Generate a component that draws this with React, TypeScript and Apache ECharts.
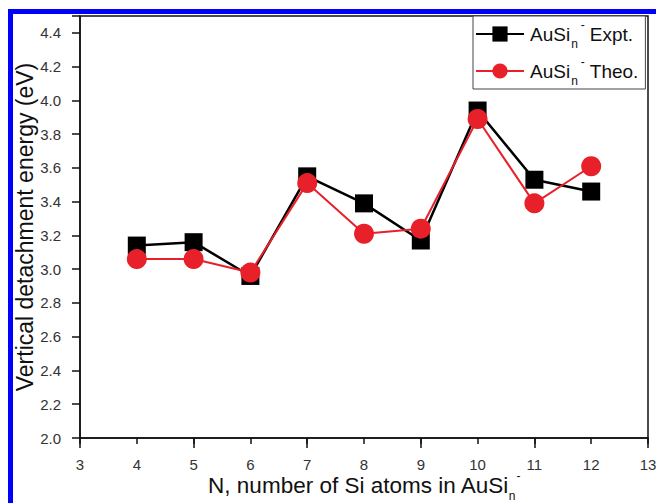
import React, { useEffect, useRef } from "react";
import * as echarts from "echarts";

const nValues = [4, 5, 6, 7, 8, 9, 10, 11, 12];
const exptVDE = [3.14, 3.16, 2.96, 3.55, 3.39, 3.17, 3.94, 3.53, 3.46];
const theoVDE = [3.06, 3.06, 2.98, 3.51, 3.21, 3.24, 3.89, 3.39, 3.61];
const seriesNames = ["Expt.", "Theo."];

export default function App() {
  const ref = useRef<HTMLDivElement>(null);
  useEffect(() => {
    if (!ref.current) return;
    const chart = echarts.init(ref.current, null, { renderer: "svg" });
    const font = "Liberation Sans, Arial, sans-serif";
    const legendRich = {
      a: { fontSize: 19, fontFamily: font, color: "#111", lineHeight: 28, verticalAlign: "middle" },
      sub: { fontSize: 12, fontFamily: font, color: "#111", lineHeight: 12, verticalAlign: "bottom", padding: [0, 3, -2, 1] },
      sup: { fontSize: 12, fontFamily: font, color: "#111", lineHeight: 12, verticalAlign: "top", padding: [-1, 5, 0, 0] },
    };
    chart.setOption({
      animation: false,
      backgroundColor: "#ffffff",
      grid: {
        left: 80,
        top: 16,
        right: 8,
        bottom: 65,
        show: true,
        borderColor: "#111",
        borderWidth: 1.5,
        outerBoundsMode: "none",
        containLabel: false,
      },
      legend: {
        left: 473,
        top: 16,
        orient: "vertical",
        itemWidth: 48,
        itemHeight: 19,
        itemGap: 6,
        padding: [3, 7, 2, 2],
        borderColor: "#444",
        borderWidth: 1,
        backgroundColor: "#fff",
        data: seriesNames,
        formatter: (name: string) => `{a|AuSi}{sub|n}{sup|-}{a|${name}}`,
        textStyle: { rich: legendRich, fontSize: 19, fontFamily: font, padding: [0, 0, 0, 1] },
      },
      xAxis: [
        {
          type: "value",
          min: 3,
          max: 13,
          interval: 1,
          name: "{a|N, number of Si atoms in AuSi}{sub|n}{sup|-}",
          nameLocation: "middle",
          nameGap: 34,
          nameMoveOverlap: false,
          nameTextStyle: {
            rich: {
              a: { fontSize: 22.5, fontFamily: font, color: "#111", lineHeight: 26, verticalAlign: "middle" },
              sub: { fontSize: 12, fontFamily: font, color: "#111", lineHeight: 12, verticalAlign: "bottom", padding: [0, 1, -4, 0] },
              sup: { fontSize: 12, fontFamily: font, color: "#111", lineHeight: 12, verticalAlign: "top", padding: [-2, 0, 0, 0] },
            },
          },
          axisLine: { show: true, lineStyle: { color: "#111", width: 1.5 } },
          axisTick: { show: true, length: 6, lineStyle: { color: "#111", width: 1.5 } },
          axisLabel: { fontSize: 15, fontFamily: font, color: "#333", margin: 19 },
          splitLine: { show: false },
        },
        {
          type: "value",
          min: 3,
          max: 13,
          interval: 2,
          position: "bottom",
          axisLine: { show: false },
          axisTick: { show: true, length: 10, lineStyle: { color: "#111", width: 1.5 } },
          axisLabel: { show: false },
          splitLine: { show: false },
        },
      ],
      yAxis: {
        type: "value",
        min: 2.0,
        max: 4.5,
        interval: 0.2,
        name: "Vertical detachment energy (eV)",
        nameLocation: "middle",
        nameGap: 44,
        nameMoveOverlap: false,
        nameTextStyle: { fontSize: 23, fontFamily: font, color: "#111" },
        axisLine: { show: true, lineStyle: { color: "#111", width: 1.5 } },
        axisTick: { show: true, length: 8, lineStyle: { color: "#111", width: 1.5 } },
        axisLabel: {
          fontSize: 15,
          fontFamily: font,
          color: "#333",
          margin: 19,
          formatter: (v: number) => (v > 4.41 ? "" : v.toFixed(1)),
        },
        splitLine: { show: false },
      },
      graphic: [
        {
          type: "rect",
          shape: { x: 10.5, y: 11.5, width: 700, height: 600 },
          style: { fill: "none", stroke: "#0000ff", lineWidth: 5 },
          z: 100,
        },
      ],
      series: [
        {
          name: seriesNames[0],
          type: "line",
          data: nValues.map((n, i) => [n, exptVDE[i]]),
          symbol: "rect",
          symbolSize: 18,
          itemStyle: { color: "#000" },
          lineStyle: { color: "#000", width: 2.5 },
          z: 2,
        },
        {
          name: seriesNames[1],
          type: "line",
          data: nValues.map((n, i) => [n, theoVDE[i]]),
          symbol: "circle",
          symbolSize: 20,
          itemStyle: { color: "#e8202a" },
          lineStyle: { color: "#e8202a", width: 2 },
          z: 3,
        },
      ],
    });
    return () => chart.dispose();
  }, []);
  return (
    <div style={{ position: "fixed", left: 0, top: 0, width: 656, height: 503, background: "#fff" }}>
      <div ref={ref} style={{ width: 656, height: 503 }} />
    </div>
  );
}
